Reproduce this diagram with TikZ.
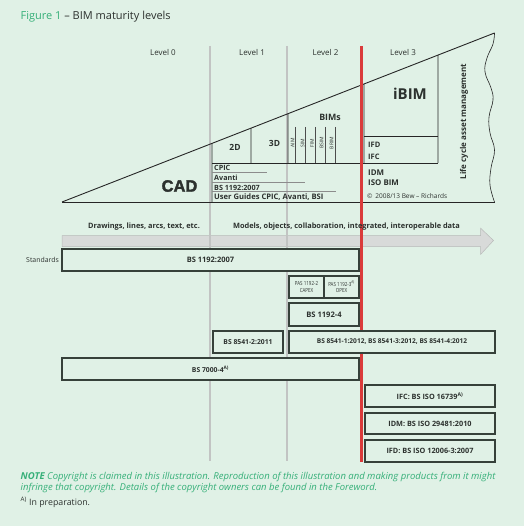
\documentclass[tikz,border=0pt]{standalone}
\usepackage{fontspec}
\usepackage{graphicx}
\setmainfont{Open Sans}
\newfontfamily\cadfont[FakeBold=2]{Liberation Sans}
\usetikzlibrary{calc}
\definecolor{bg}{HTML}{E0F1E6}
\definecolor{grn}{HTML}{35AF78}
\definecolor{txt}{HTML}{2C312E}
\definecolor{boxc}{HTML}{36413A}
\definecolor{gline}{HTML}{C2C4C3}
\definecolor{redl}{HTML}{DA3B3B}
\definecolor{bandf}{HTML}{D8DAD9}
\definecolor{bandd}{HTML}{B8BAB9}
\tikzset{
  lbl/.style={inner sep=0pt, text=txt, font=\fontsize{8}{9}\selectfont},
  sml/.style={inner sep=0pt, text=txt, font=\fontsize{7.4}{8}\selectfont\bfseries},
  big/.style={inner sep=0pt, text=txt, font=\fontsize{8.5}{10}\selectfont\bfseries},
  stdbox/.style={draw=boxc, line width=1.4pt, fill=bg, inner sep=0pt, text=txt,
     font=\fontsize{7.1}{8}\selectfont\bfseries},
  pasbox/.style={stdbox, align=center, font=\fontsize{5.6}{6.6}\selectfont},
  tri/.style={draw=black!85, line width=0.9pt},
  thin/.style={draw=black!45, line width=0.5pt},
  levline/.style={draw=gline, line width=2pt},
  notetxt/.style={inner sep=0pt, anchor=base west, text=grn, font=\fontsize{9.5}{11}\selectfont\itshape},
}
\newcommand{\cond}[1]{\scalebox{0.8}[1]{#1}}
\begin{document}
\begin{tikzpicture}[x=1pt,y=-1pt]
\fill[bg] (0,0) rectangle (524,526);
\useasboundingbox (0,0) rectangle (524,526);

% title
\node[anchor=base west, inner sep=0pt, font=\fontsize{11}{13}\selectfont] (title) at (20.5,20)
  {\textcolor{grn}{Figure 1} \textcolor{txt}{– BIM maturity levels}};

% level labels
\node[lbl, anchor=base] (l0) at (163,56) {Level 0};
\node[lbl, anchor=base] (l1) at (252,56) {Level 1};
\node[lbl, anchor=base] (l2) at (325.5,56) {Level 2};
\node[lbl, anchor=base] (l3) at (403,56) {Level 3};

% arrow band
\fill[bandf, draw=bandd, line width=0.5pt] (62,235.5) -- (480.7,235.5) -- (480.7,228.3) -- (493.5,240.5)
  -- (480.7,254.3) -- (480.7,246.5) -- (62,246.5) -- cycle;

% vertical level lines
\coordinate (g1t) at (210,46); \coordinate (g1b) at (210,461);
\coordinate (g2t) at (286.5,46); \coordinate (g2b) at (286.5,461);
\coordinate (rt) at (361.5,46); \coordinate (rb) at (361.5,462);
\draw[levline] (g1t) -- (g1b);
\draw[levline] (g2t) -- (g2b);

% triangle
\coordinate (A) at (62,202);
\coordinate (B) at (494.5,33);
\coordinate (C) at (494.5,202);
\draw[tri] (A) -- (B);
\draw[tri] (A) -- (C);
\draw[black!85, line width=0.6pt] plot[smooth, tension=0.7] coordinates
  {(494.5,33) (493,44) (487,58) (485,72) (491,88) (493,100) (489,117) (490,133) (494.5,150) (491,168) (490,185) (494.5,202)};

% inner structure
\draw[tri] ($(A)!{(212-62)/432.5}!(B)$) -- (212,202);
\draw[tri] (212,163) -- (438,163);
\draw[tri] ($(A)!{(251-62)/432.5}!(B)$) -- (251,163);
\draw[tri] ($(A)!{(288-62)/432.5}!(B)$) -- (288,163);
\draw[tri] ($(A)!{(364-62)/432.5}!(B)$) -- (364,163);
\draw[tri] ($(A)!{(438-62)/432.5}!(B)$) -- (438,163);
\draw[tri] (364,136) -- (438,136);
\foreach \xx in {295.3,305.3,315.3,325.3,335.3}{
  \draw[black!70, line width=0.5pt] (\xx,127) -- (\xx,163);
}
% underlines
\draw[thin] (212,172.5) -- (267,172.5);
\draw[thin] (212,182) -- (305,182);
\draw[thin] (212,191.7) -- (335.5,191.7);

% red line
\draw[redl, line width=2.4pt] (rt) -- (rb);

% triangle texts
\node[inner sep=0pt, text=txt, anchor=base, font=\fontsize{16.5}{17}\selectfont\cadfont\bfseries] (cad) at (179.5,191.7) {CAD};
\node[big, anchor=base] (d2) at (235,151) {2D};
\node[big, anchor=base] (d3) at (274.5,147) {3D};
\node[big, anchor=base, font=\fontsize{8.8}{10}\selectfont\bfseries] (bims) at (330,121) {BIMs};
\node[inner sep=0pt, text=txt, anchor=base, font=\fontsize{15}{16}\selectfont\bfseries] (ibim) at (410,100) {iBIM};
\foreach \nm/\xx in {AIM/292.5, SIM/302.5, FIM/312, BSIM/321.5, BRIM/331.5}{
  \node[inner sep=0pt, text=txt, rotate=90, font=\fontsize{5}{5}\selectfont] (b\nm) at (\xx,143) {\nm};
}
\node[sml, anchor=base west, font=\fontsize{7.5}{8}\selectfont\bfseries] (ifd) at (368,148) {IFD};
\node[sml, anchor=base west, font=\fontsize{7.5}{8}\selectfont\bfseries] (ifc) at (368,159.3) {IFC};
\node[sml, anchor=base west, font=\fontsize{7.9}{8}\selectfont\bfseries] (idm) at (368,175.3) {IDM};
\node[sml, anchor=base west, font=\fontsize{7.9}{8}\selectfont\bfseries] (isobim) at (368,185.3) {ISO BIM};
\node[inner sep=0pt, text=txt, anchor=base west, font=\fontsize{6.5}{7}\selectfont] (copy) at (367,198.3) {©\, 2008/13 Bew – Richards};
\node[sml, anchor=base west, font=\fontsize{7.2}{8}\selectfont\bfseries] (cpic) at (214,171) {CPIC};
\node[sml, anchor=base west, font=\fontsize{7.2}{8}\selectfont\bfseries] (avanti) at (214,180.7) {Avanti};
\node[sml, anchor=base west, font=\fontsize{7.2}{8}\selectfont\bfseries] (bs1192t) at (214,190.5) {BS 1192:2007};
\node[sml, anchor=base west, font=\fontsize{7.6}{8}\selectfont\bfseries] (ug) at (214,200) {User Guides CPIC, Avanti, BSI};
\node[inner sep=0pt, text=txt, rotate=90, font=\fontsize{8}{9}\selectfont\bfseries] (life) at (464,121.5) {Life cycle asset management};

% band texts
\node[sml, anchor=base] (draw) at (144,229) {Drawings, lines, arcs, text, etc.};
\node[sml, anchor=base] (models) at (346.5,229) {Models, objects, collaboration, integrated, interoperable data};

% standards
\node[lbl, anchor=base east, font=\fontsize{6.9}{8}\selectfont] (stdl) at (59,262.5) {Standards};
\node[stdbox, minimum width=297pt, minimum height=22pt, font=\fontsize{7.5}{8}\selectfont\bfseries] (bs1192) at (210.5,260) {BS 1192:2007};
\node[pasbox, minimum width=35pt, minimum height=22pt] (pas2) at (306.5,287) {\cond{PAS 1192-2}\\\cond{CAPEX}};
\node[pasbox, minimum width=35pt, minimum height=22pt] (pas3) at (341.5,287) {\cond{PAS 1192-3\textsuperscript{A)}}\\\cond{OPEX}};
\node[stdbox, minimum width=70pt, minimum height=23pt, font=\fontsize{7.6}{9}\selectfont\bfseries] (bs11924) at (324,314.5) {BS 1192-4};
\node[stdbox, minimum width=70pt, minimum height=22pt, font=\fontsize{6.8}{8}\selectfont\bfseries] (bs85412) at (248,342) {BS 8541-2:2011};
\node[stdbox, minimum width=206pt, minimum height=22pt, font=\fontsize{6.6}{8}\selectfont\bfseries] (bs85411) at (392,342) {BS 8541-1:2012, BS 8541-3:2012, BS 8541-4:2012};
\node[stdbox, minimum width=297pt, minimum height=22pt, font=\fontsize{6.8}{8}\selectfont\bfseries] (bs7000) at (210.5,369) {BS 7000-4\textsuperscript{A)}};
\node[stdbox, minimum width=130pt, minimum height=22pt, font=\fontsize{7.3}{8}\selectfont\bfseries] (ifcb) at (430,396) {IFC: BS ISO 16739\textsuperscript{A)}};
\node[stdbox, minimum width=130pt, minimum height=21pt, font=\fontsize{7.3}{8}\selectfont\bfseries] (idmb) at (430,423.5) {IDM: BS ISO 29481:2010};
\node[stdbox, minimum width=130pt, minimum height=22pt, font=\fontsize{7.3}{8}\selectfont\bfseries] (ifdb) at (430,451) {IFD: BS ISO 12006-3:2007};

% notes
\node[notetxt] (note1) at (20.5,479)
  {\textbf{NOTE} Copyright is claimed in this illustration. Reproduction of this illustration and making products from it might};
\node[notetxt] (note2) at (20.5,490.7)
  {infringe that copyright. Details of the copyright owners can be found in the Foreword.};
\node[inner sep=0pt, anchor=base west, text=txt, font=\fontsize{8.8}{10}\selectfont] (prep) at (20.5,505.5)
  {\textsuperscript{A)} In preparation.};
\end{tikzpicture}
\end{document}
